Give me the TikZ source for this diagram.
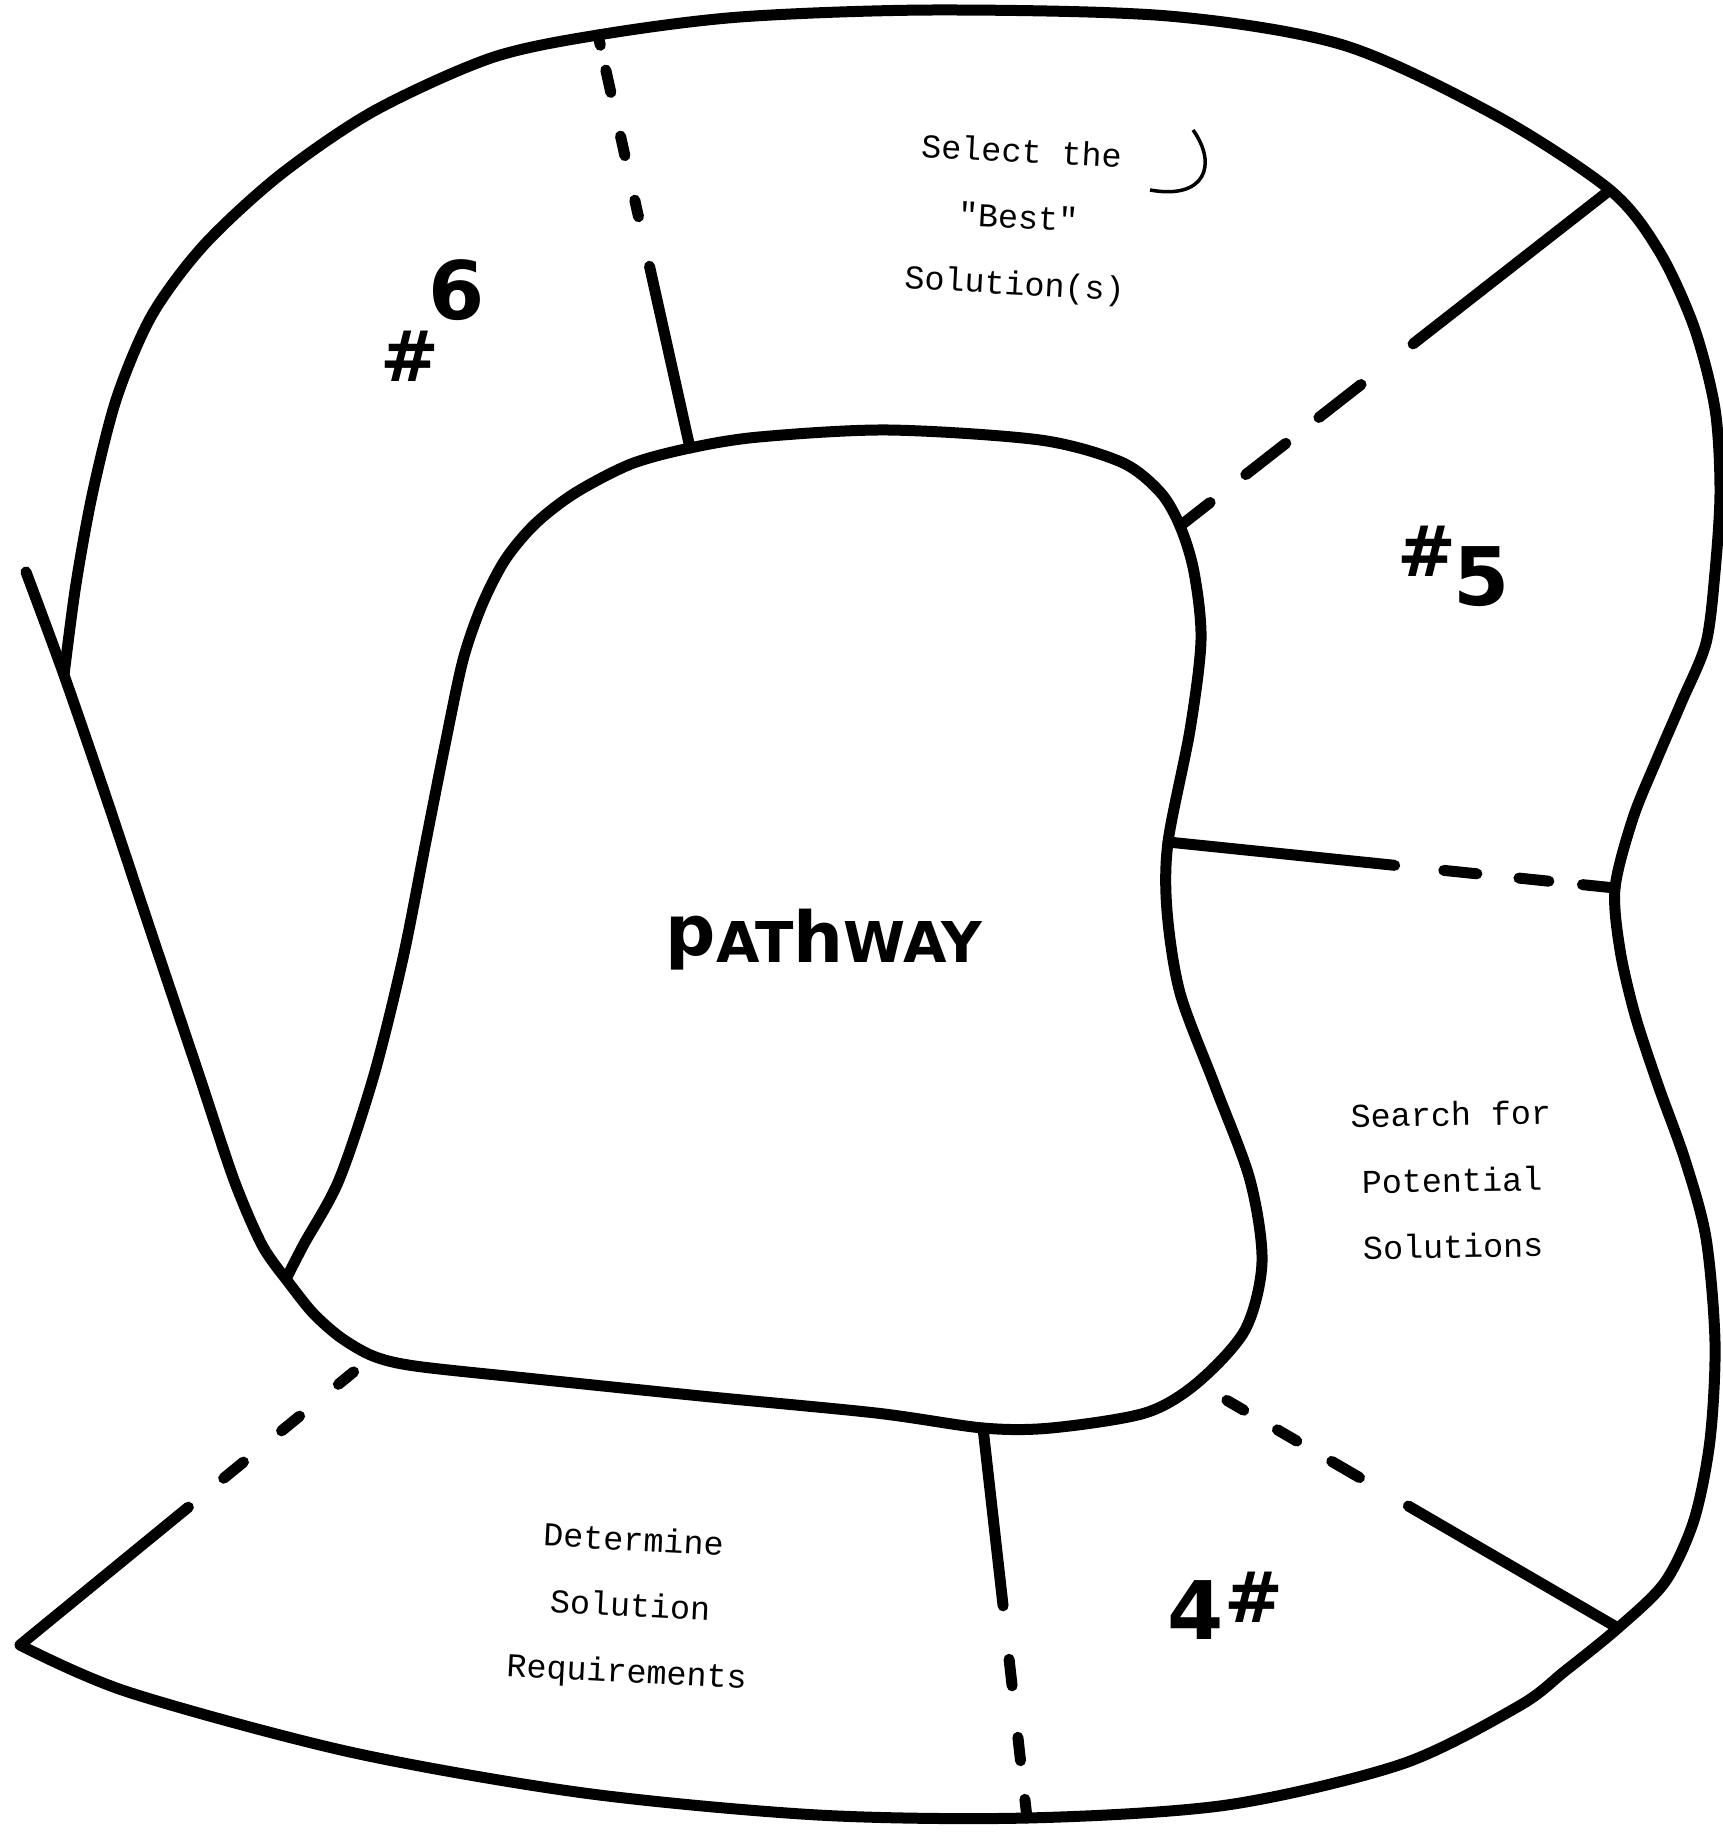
\documentclass[tikz,border=0pt]{standalone}
\usepackage{fontspec}
\newfontfamily\typefont{Liberation Mono}
\newfontfamily\handfont{DejaVu Sans}
\usetikzlibrary{calc}

\begin{document}
\begin{tikzpicture}[x=0.1mm, y=-0.1mm,
    rim/.style={line width=1.1mm, line cap=round, line join=round},
    typed/.style={font=\typefont\fontsize{9.5}{18.8}\selectfont, align=center, inner sep=0pt},
    numeral/.style={font=\handfont\bfseries\fontsize{23}{23}\selectfont, inner sep=0pt},
    hashmark/.style={font=\handfont\bfseries\fontsize{20}{20}\selectfont, inner sep=0pt},
]

% Page
\fill[white] (0,0) rectangle (1722,1832);
\useasboundingbox (0,0) rectangle (1722,1832);

% Outer rim junctions
\coordinate (ostub) at (26,572);
\coordinate (oleft) at (64,675);
\coordinate (o1) at (598,35);
\coordinate (o2) at (1610,190);
\coordinate (o3) at (1615,888);
\coordinate (o4) at (1618,1628);
\coordinate (o5) at (1027,1818);
\coordinate (o6) at (20,1645);

% Inner (pathway) junctions
\coordinate (corner) at (286,1279);
\coordinate (i1) at (690,448);
\coordinate (i2) at (1180,526);
\coordinate (i3) at (1168,842);
\coordinate (i4) at (1197,1383);
\coordinate (i5) at (983,1428);
\coordinate (i6) at (373,1356);

% Outer rim
\draw[rim] plot[smooth] coordinates {(oleft) (76,584) (93,491) (117,397) (152,315)
    (204,245) (280,175) (374,111) (491,58) (o1) (740,17) (935,10) (1168,16)
    (1343,45) (1495,115) (o2) (1659,251) (1694,327) (1715,409) (1720,491)
    (1715,572) (1706,643) (1682,701) (1657,759) (1633,818) (o3) (1620,950)
    (1635,1015) (1658,1085) (1685,1160) (1706,1238) (1715,1343) (1710,1440)
    (1694,1520) (1665,1582) (o4) (1565,1671) (1519,1706) (1402,1764) (1227,1805)
    (o5) (818,1815) (584,1793) (350,1752) (128,1692) (o6)};

% Left edge
\draw[rim] plot[smooth] coordinates {(ostub) (oleft) (105,794) (152,935) (199,1075)
    (234,1180) (262,1245) (corner)};

% Pathway
\draw[rim] plot[smooth] coordinates {(corner) (304,1244) (339,1180) (374,1075)
    (403,958) (426,841) (445,745) (463,660) (482,605) (505,560) (535,524)
    (575,493) (631,464) (i1) (759,437) (888,430) (1040,440) (1121,462)
    (1160,492) (i2) (1194,572) (1201,640) (1190,730) (i3) (1167,911) (1180,993)
    (1215,1086) (1250,1180) (1262,1262) (1245,1330) (i4) (1145,1413) (1051,1428)
    (i5) (876,1413) (701,1396) (526,1378) (415,1366) (i6) (340,1337) (312,1312)
    (corner)};

% Divider 1
\draw[rim] ($(o1)!0.56!(i1)$) -- (i1);
\foreach \a/\b in {0/0.025, 0.085/0.139, 0.245/0.292, 0.400/0.440}
    \draw[rim] ($(o1)!\a!(i1)$) -- ($(o1)!\b!(i1)$);

% Divider 2
\draw[rim] (o2) -- ($(o2)!0.458!(i2)$);
\foreach \a/\b in {0.579/0.677, 0.754/0.847, 0.93/1}
    \draw[rim] ($(o2)!\a!(i2)$) -- ($(o2)!\b!(i2)$);

% Divider 3
\draw[rim] (i3) -- ($(i3)!0.507!(o3)$);
\foreach \a/\b in {0.617/0.691, 0.785/0.852, 0.927/1}
    \draw[rim] ($(i3)!\a!(o3)$) -- ($(i3)!\b!(o3)$);

% Divider 4
\draw[rim] ($(i4)!0.502!(o4)$) -- (o4);
\foreach \a/\b in {0.071/0.111, 0.191/0.237, 0.320/0.386}
    \draw[rim] ($(i4)!\a!(o4)$) -- ($(i4)!\b!(o4)$);

% Divider 5
\draw[rim] (i5) -- ($(i5)!0.456!(o5)$);
\foreach \a/\b in {0.593/0.661, 0.793/0.853, 0.952/1}
    \draw[rim] ($(i5)!\a!(o5)$) -- ($(i5)!\b!(o5)$);

% Divider 6
\draw[rim] ($(i6)!0.523!(o6)$) -- (o6);
\foreach \a/\b in {0.055/0.098, 0.208/0.259, 0.367/0.423}
    \draw[rim] ($(i6)!\a!(o6)$) -- ($(i6)!\b!(o6)$);

% Stray pen stroke
\draw[line width=0.35mm] (1193,130) .. controls (1218,165) and (1205,200) .. (1150,190);

% Steps
\node[typed, rotate=-3] (select) at (1018,220) {Select the\\"Best"\\Solution(s)};
\node[typed, rotate=1] (search) at (1452,1180) {Search for\\Potential\\Solutions};
\node[typed, rotate=-3] (require) at (630,1608) {Determine\\Solution\\Requirements};

% Step numbers
\node[hashmark] (hsix) at (410,356) {\#};
\node[numeral] (six) at (457,290) {6};
\node[hashmark] (hfive) at (1427,551) {\#};
\node[numeral] (five) at (1482,577) {5};
\node[numeral] (four) at (1196,1610) {4};
\node[hashmark] (hfour) at (1254,1597) {\#};

% Centre
\node[font=\handfont\bfseries\fontsize{16}{16}\selectfont, inner sep=0pt] (pathway)
    at (824,940) {{\fontsize{20}{20}\selectfont\raisebox{2pt}{p}}AT{\fontsize{20}{20}\selectfont h}WAY};

\end{tikzpicture}
\end{document}
